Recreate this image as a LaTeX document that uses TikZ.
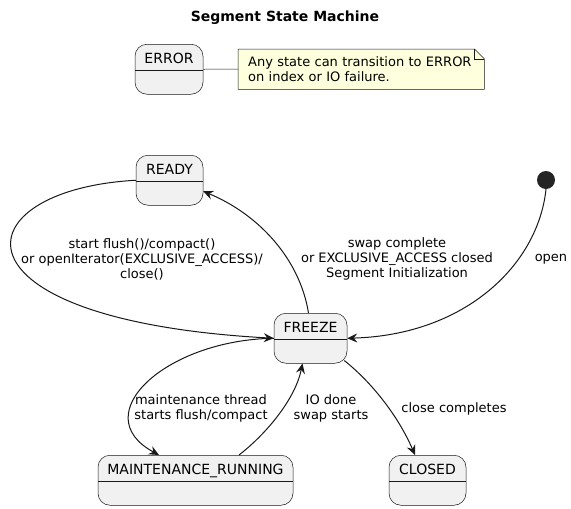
\documentclass[tikz,border=0pt]{standalone}
\usepackage{fontspec}
\setmainfont{DejaVu Sans}
\usepackage{tikz}
\usetikzlibrary{arrows.meta,backgrounds}

\definecolor{stateline}{HTML}{181818}
\definecolor{statefill}{HTML}{F1F1F1}
\definecolor{notefill}{HTML}{FEFFDD}

\tikzset{
  state/.style={rectangle, draw=stateline, fill=statefill, line width=0.5pt, rounded corners=12pt,
    anchor=north, minimum height=50pt, inner xsep=0pt, inner ysep=0pt, text height=19pt, text depth=31pt,
    font=\fontsize{14}{16}\selectfont,
    path picture={\draw[stateline, line width=0.5pt] ([yshift=-26pt]path picture bounding box.north west) -- ([yshift=-26pt]path picture bounding box.north east);}},
  trans/.style={draw=stateline, line width=1pt, -{Stealth[length=10pt,width=9pt,inset=3.5pt]}},
  lbl/.style={font=\fontsize{13}{15}\selectfont, align=center, inner sep=0pt},
  notebox/.style={anchor=north west, minimum width=246pt, minimum height=40pt, inner xsep=10pt, inner ysep=0pt,
    text width=226pt, align=left, font=\fontsize{13}{15}\selectfont}
}

\begin{document}
\begin{tikzpicture}[x=1pt, y=-1pt]
  \useasboundingbox (0,0) rectangle (571,509);
  \node (title) [font=\bfseries\fontsize{14}{16}\selectfont] at (285,18) {Segment State Machine};

  \node (error) [state, minimum width=68pt] at (169,44) {ERROR};
  \node (ready) [state, minimum width=67pt] at (169.5,155) {READY};
  \node (freeze) [state, minimum width=73pt] at (310.5,313) {FREEZE};
  \node (maint) [state, minimum width=195pt] at (195.5,455) {MAINTENANCE\_RUNNING};
  \node (closed) [state, minimum width=77pt] at (427.5,455) {CLOSED};
  \node (init) [circle, fill=stateline!95, minimum size=18pt, inner sep=0pt] at (546,180) {};

  \node (note) [notebox] at (238,49) {Any state can transition to ERROR\\on index or IO failure.};
  \begin{scope}[on background layer]
    \draw[stateline, line width=0.5pt, fill=notefill] (note.north west) -- ([xshift=-10pt]note.north east)
      -- ([yshift=-10pt]note.north east) -- (note.south east) -- (note.south west) -- cycle;
  \end{scope}
  \draw[stateline, line width=0.5pt] ([xshift=-10pt]note.north east) |- ([yshift=-10pt]note.north east);
  \draw[stateline, line width=0.5pt] (error.east) -- (note.west);

  \draw[trans] (ready.west) .. controls (-40,190) and (-60,320) .. (freeze.west);
  \draw[trans] ([xshift=-2pt]freeze.north) .. controls (300,260) and (260,215) .. ([yshift=-11pt]ready.east);
  \draw[trans] (init.south) .. controls (538,265) and (465,335) .. (freeze.east);
  \draw[trans] (freeze.west) .. controls (165,340) and (85,415) .. ([xshift=-36.5pt]maint.north);
  \draw[trans] ([xshift=43.5pt]maint.north) .. controls (265,435) and (295,400) .. ([xshift=-8pt]freeze.south);
  \draw[trans] ([xshift=-3pt,yshift=3pt]freeze.south east) .. controls (375,385) and (400,420) .. ([xshift=-12.5pt]closed.north);

  \node (lflush) [lbl] at (142,259) {start flush()/compact()\\or openIterator(EXCLUSIVE\_ACCESS)/\\close()};
  \node (lswap) [lbl] at (397,259) {swap complete\\or EXCLUSIVE\_ACCESS closed\\Segment Initialization};
  \node (lopen) [lbl] at (551,259) {open};
  \node (lmaint) [lbl] at (201,408) {maintenance thread\\starts flush/compact};
  \node (lio) [lbl] at (331,408) {IO done\\swap starts};
  \node (lclose) [lbl] at (454,409) {close completes};
\end{tikzpicture}
\end{document}
